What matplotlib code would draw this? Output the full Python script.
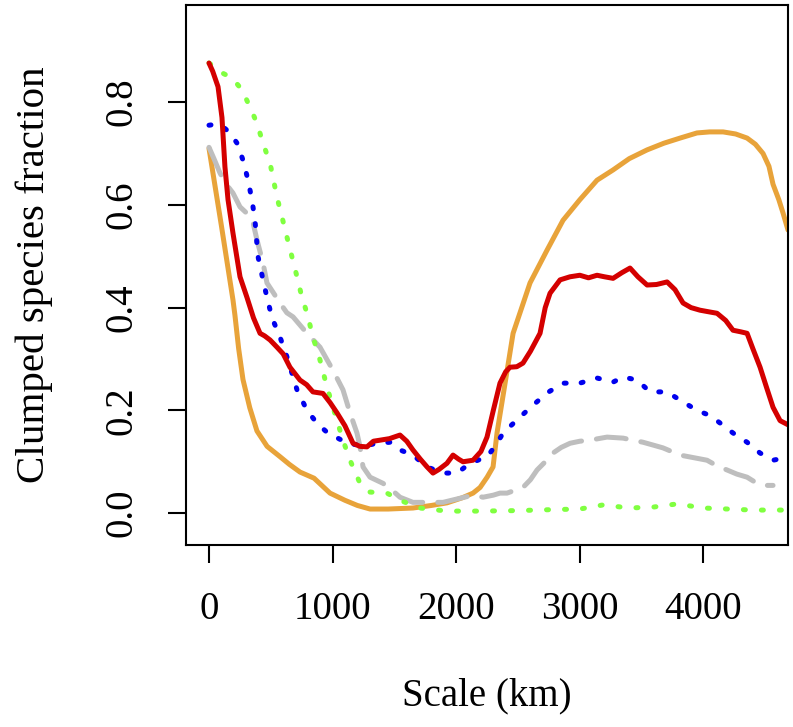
import matplotlib
matplotlib.use("Agg")
import matplotlib.pyplot as plt

# Scale (km) and clumped species fraction for each series
orange_x = [0, 100, 194, 210, 240, 275, 330, 388, 470, 574, 650, 736, 850, 979, 1100, 1200, 1303, 1450, 1650, 1800, 1925, 2050, 2136, 2193, 2250, 2298, 2330, 2400, 2460, 2530, 2597, 2735, 2864, 3000, 3139, 3269, 3400, 3544, 3680, 3811, 3948, 4050, 4159, 4260, 4353, 4420, 4482, 4530, 4563, 4610, 4644, 4684]
orange_y = [0.71, 0.56, 0.415, 0.385, 0.32, 0.26, 0.205, 0.16, 0.13, 0.11, 0.095, 0.08, 0.068, 0.039, 0.025, 0.015, 0.008, 0.008, 0.01, 0.015, 0.02, 0.03, 0.039, 0.05, 0.07, 0.09, 0.156, 0.26, 0.35, 0.40, 0.448, 0.512, 0.57, 0.61, 0.648, 0.668, 0.69, 0.707, 0.72, 0.73, 0.74, 0.742, 0.742, 0.738, 0.73, 0.718, 0.70, 0.675, 0.64, 0.61, 0.584, 0.551]

red_x = [0, 30, 73, 105, 129, 154, 194, 251, 307, 360, 413, 450, 494, 550, 600, 655, 736, 790, 841, 922, 980, 1036, 1100, 1165, 1220, 1278, 1330, 1383, 1460, 1545, 1600, 1650, 1710, 1764, 1812, 1860, 1925, 1974, 2020, 2055, 2136, 2200, 2249, 2300, 2354, 2400, 2435, 2490, 2540, 2600, 2678, 2720, 2759, 2840, 2920, 3000, 3070, 3139, 3200, 3269, 3340, 3406, 3470, 3544, 3620, 3706, 3770, 3835, 3900, 3972, 4040, 4110, 4180, 4239, 4300, 4353, 4400, 4458, 4510, 4563, 4620, 4684]
red_y = [0.876, 0.86, 0.83, 0.77, 0.674, 0.61, 0.545, 0.46, 0.42, 0.38, 0.35, 0.345, 0.337, 0.323, 0.31, 0.284, 0.259, 0.25, 0.236, 0.233, 0.215, 0.195, 0.17, 0.136, 0.13, 0.129, 0.14, 0.142, 0.145, 0.152, 0.14, 0.123, 0.105, 0.09, 0.078, 0.085, 0.097, 0.113, 0.105, 0.10, 0.103, 0.12, 0.148, 0.20, 0.253, 0.275, 0.284, 0.285, 0.292, 0.315, 0.35, 0.40, 0.428, 0.454, 0.46, 0.463, 0.458, 0.463, 0.46, 0.457, 0.468, 0.477, 0.46, 0.444, 0.445, 0.45, 0.435, 0.409, 0.40, 0.395, 0.392, 0.389, 0.375, 0.356, 0.353, 0.35, 0.32, 0.284, 0.245, 0.206, 0.18, 0.172]

blue_x = [0, 60, 113, 170, 227, 275, 316, 348, 372, 396, 437, 469, 510, 574, 631, 712, 793, 874, 979, 1050, 1117, 1222, 1300, 1359, 1464, 1545, 1650, 1764, 1893, 2006, 2112, 2217, 2249, 2330, 2379, 2450, 2516, 2621, 2735, 2864, 3000, 3070, 3139, 3269, 3350, 3463, 3568, 3706, 3811, 3948, 4053, 4159, 4239, 4353, 4458, 4563, 4644, 4684]
blue_y = [0.755, 0.757, 0.752, 0.74, 0.72, 0.687, 0.648, 0.609, 0.57, 0.50, 0.454, 0.42, 0.38, 0.343, 0.304, 0.24, 0.20, 0.175, 0.152, 0.145, 0.136, 0.132, 0.133, 0.136, 0.138, 0.123, 0.113, 0.09, 0.078, 0.078, 0.097, 0.107, 0.109, 0.136, 0.156, 0.172, 0.187, 0.21, 0.234, 0.253, 0.253, 0.258, 0.263, 0.255, 0.265, 0.259, 0.236, 0.236, 0.22, 0.20, 0.19, 0.171, 0.156, 0.138, 0.117, 0.103, 0.107, 0.108]

gray_x = [0, 40, 89, 140, 194, 251, 300, 348, 388, 437, 469, 518, 574, 630, 680, 740, 793, 898, 1003, 1084, 1141, 1197, 1222, 1246, 1303, 1408, 1480, 1545, 1650, 1764, 1893, 2031, 2136, 2217, 2300, 2354, 2411, 2540, 2600, 2654, 2720, 2783, 2850, 2921, 3000, 3083, 3150, 3220, 3350, 3430, 3511, 3600, 3673, 3811, 3920, 4029, 4110, 4191, 4270, 4353, 4420, 4482, 4563]
gray_y = [0.712, 0.69, 0.662, 0.64, 0.623, 0.596, 0.585, 0.574, 0.532, 0.487, 0.448, 0.43, 0.409, 0.39, 0.382, 0.365, 0.35, 0.323, 0.278, 0.24, 0.195, 0.156, 0.129, 0.09, 0.07, 0.058, 0.045, 0.031, 0.021, 0.021, 0.021, 0.029, 0.035, 0.031, 0.035, 0.039, 0.039, 0.05, 0.065, 0.084, 0.10, 0.117, 0.128, 0.136, 0.14, 0.142, 0.145, 0.148, 0.146, 0.142, 0.138, 0.132, 0.127, 0.113, 0.108, 0.103, 0.092, 0.084, 0.076, 0.07, 0.06, 0.054, 0.054]

green_x = [0, 24, 89, 186, 267, 332, 388, 437, 494, 550, 591, 631, 672, 712, 752, 793, 841, 898, 955, 1003, 1084, 1141, 1222, 1303, 1440, 1545, 1707, 1925, 2193, 2500, 2800, 3000, 3188, 3400, 3600, 3787, 4000, 4200, 4400, 4684]
green_y = [0.876, 0.872, 0.859, 0.847, 0.824, 0.79, 0.759, 0.72, 0.681, 0.615, 0.576, 0.537, 0.498, 0.46, 0.42, 0.389, 0.343, 0.298, 0.245, 0.206, 0.142, 0.103, 0.058, 0.041, 0.039, 0.025, 0.01, 0.004, 0.004, 0.005, 0.007, 0.008, 0.016, 0.01, 0.012, 0.018, 0.01, 0.008, 0.006, 0.006]

x_ticks = [0, 1000, 2000, 3000, 4000]
y_ticks = [0.0, 0.2, 0.4, 0.6, 0.8]

plt.rcParams['font.family'] = ['Liberation Serif', 'DejaVu Serif']

fig = plt.figure(figsize=(7.93, 7.27), dpi=100)
ax = fig.add_axes([186/793, 1 - 545/727, (788 - 186)/793, (545 - 5)/727])

lw = 3.6
ax.plot(orange_x, orange_y, color='#E8A33A', lw=lw, solid_capstyle='round', solid_joinstyle='round')
ax.plot(gray_x, gray_y, color='#BEBEBE', lw=lw, linestyle=(0, (6.0, 3.0)), dash_capstyle='round')
ax.plot(green_x, green_y, color='#80FF40', lw=lw, linestyle=(0, (0.4, 3.2)), dash_capstyle='round')
ax.plot(blue_x, blue_y, color='#0000EE', lw=lw, linestyle=(0, (0.4, 3.0)), dash_capstyle='round')
ax.plot(red_x, red_y, color='#D40000', lw=lw, solid_capstyle='round', solid_joinstyle='round')

ax.set_xlim(-186, 4684)
ax.set_ylim(-0.062, 0.989)
ax.set_xticks(x_ticks)
ax.set_xticklabels([str(v) for v in x_ticks])
ax.set_yticks(y_ticks)
ax.set_yticklabels([f"{v:.1f}" for v in y_ticks], rotation=90, va='center')

for s in ax.spines.values():
    s.set_linewidth(1.5)
ax.tick_params(axis='both', length=13, width=1.5, labelsize=28)
ax.tick_params(axis='x', pad=20)
ax.tick_params(axis='y', pad=20)

ax.set_xlabel('Scale (km)', fontsize=28, labelpad=36)
ax.set_ylabel('Clumped species fraction', fontsize=29.5, labelpad=36)

fig.savefig('out.png', dpi=100)
